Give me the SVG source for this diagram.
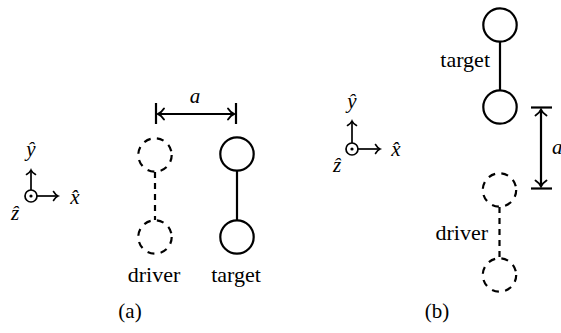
<svg xmlns="http://www.w3.org/2000/svg" width="561" height="333" viewBox="0 0 561 333">
<style>
.c{fill:none;stroke:#000;stroke-width:2.2}
.d{fill:none;stroke:#000;stroke-width:2.2;stroke-dasharray:7 6.35}
.dl{fill:none;stroke:#000;stroke-width:2.2;stroke-dasharray:6 5}
.l{fill:none;stroke:#000;stroke-width:2.2}
.ax{fill:none;stroke:#000;stroke-width:1.7}
text{font-family:'Liberation Serif','DejaVu Serif','Times New Roman',serif;font-size:21px;fill:#000}
.lb{font-size:22px}
.m{font-style:italic}
</style>
<defs>
<marker id="ar" markerUnits="userSpaceOnUse" markerWidth="14" markerHeight="14" viewBox="-8 -7 10 14" refX="0" refY="0" orient="auto-start-reverse">
<path d="M-6,-5.5 C-4,-2.5 -1.5,-0.6 0,0 C-1.5,0.6 -4,2.5 -6,5.5" fill="none" stroke="#000" stroke-width="1.9" stroke-linecap="round"/>
</marker>
<marker id="sa" markerUnits="userSpaceOnUse" markerWidth="12" markerHeight="12" viewBox="-7 -6 9 12" refX="0" refY="0" orient="auto">
<path d="M-4.5,-4.5 C-3,-2 -1.2,-0.5 0,0 C-1.2,0.5 -3,2 -4.5,4.5" fill="none" stroke="#000" stroke-width="1.6" stroke-linecap="round"/>
</marker>
</defs>

<g id="axes-a">
<circle class="ax" cx="31" cy="196" r="6"/>
<circle cx="31" cy="196" r="1.6" fill="#000"/>
<line class="ax" x1="31" y1="190" x2="31" y2="170" marker-end="url(#sa)"/>
<line class="ax" x1="37" y1="196" x2="58" y2="196" marker-end="url(#sa)"/>
<text class="m" x="31" y="156" text-anchor="middle">ŷ</text>
<text class="m" x="75" y="204" text-anchor="middle">x̂</text>
<text class="m" x="15" y="220" text-anchor="middle">ẑ</text>
</g>
<g id="driver-a-top"><circle class="d" cx="155" cy="155" r="16.7"/></g>
<g id="driver-a-bottom"><circle class="d" cx="155" cy="237" r="16.7"/></g>
<g id="target-a-top"><circle class="c" cx="237" cy="154" r="16.7"/></g>
<g id="target-a-bottom"><circle class="c" cx="237" cy="237" r="16.7"/></g>
<g id="labels-a">
<text class="lb" x="154" y="282" text-anchor="middle">driver</text>
<text class="lb" x="236" y="282" text-anchor="middle">target</text>
<text x="130" y="318" text-anchor="middle">(a)</text>
<text class="m" x="195" y="103" text-anchor="middle">a</text>
</g>

<g id="axes-b">
<circle class="ax" cx="352" cy="149" r="6"/>
<circle cx="352" cy="149" r="1.6" fill="#000"/>
<line class="ax" x1="352" y1="143" x2="352" y2="121" marker-end="url(#sa)"/>
<line class="ax" x1="358" y1="149" x2="380" y2="149" marker-end="url(#sa)"/>
<text class="m" x="352" y="108" text-anchor="middle">ŷ</text>
<text class="m" x="396" y="156" text-anchor="middle">x̂</text>
<text class="m" x="337" y="172" text-anchor="middle">ẑ</text>
</g>
<g id="target-b-top"><circle class="c" cx="500" cy="25" r="16.7"/></g>
<g id="target-b-bottom"><circle class="c" cx="500" cy="107" r="16.7"/></g>
<g id="driver-b-top"><circle class="d" cx="499.5" cy="190" r="16.7"/></g>
<g id="driver-b-bottom"><circle class="d" cx="499.5" cy="275" r="16.7"/></g>
<g id="labels-b">
<text class="lb" x="490" y="67" text-anchor="end">target</text>
<text class="lb" x="488" y="240" text-anchor="end">driver</text>
<text x="437" y="318" text-anchor="middle">(b)</text>
<text class="m" x="552" y="154">a</text>
</g>

<g id="connectors">
<line class="dl" x1="155" y1="172" x2="155" y2="220"/>
<line class="l" x1="237" y1="171" x2="237" y2="220"/>
<line class="l" x1="500" y1="42" x2="500" y2="90"/>
<line class="dl" x1="499.5" y1="207" x2="499.5" y2="258"/>
<line class="l" x1="156" y1="103" x2="156" y2="124"/>
<line class="l" x1="236" y1="103" x2="236" y2="124"/>
<line class="l" x1="158" y1="114" x2="234" y2="114" marker-start="url(#ar)" marker-end="url(#ar)"/>
<line class="l" x1="531" y1="107.5" x2="552" y2="107.5"/>
<line class="l" x1="531" y1="188.5" x2="552" y2="188.5"/>
<line class="l" x1="541" y1="109.5" x2="541" y2="186.5" marker-start="url(#ar)" marker-end="url(#ar)"/>
</g>
</svg>
